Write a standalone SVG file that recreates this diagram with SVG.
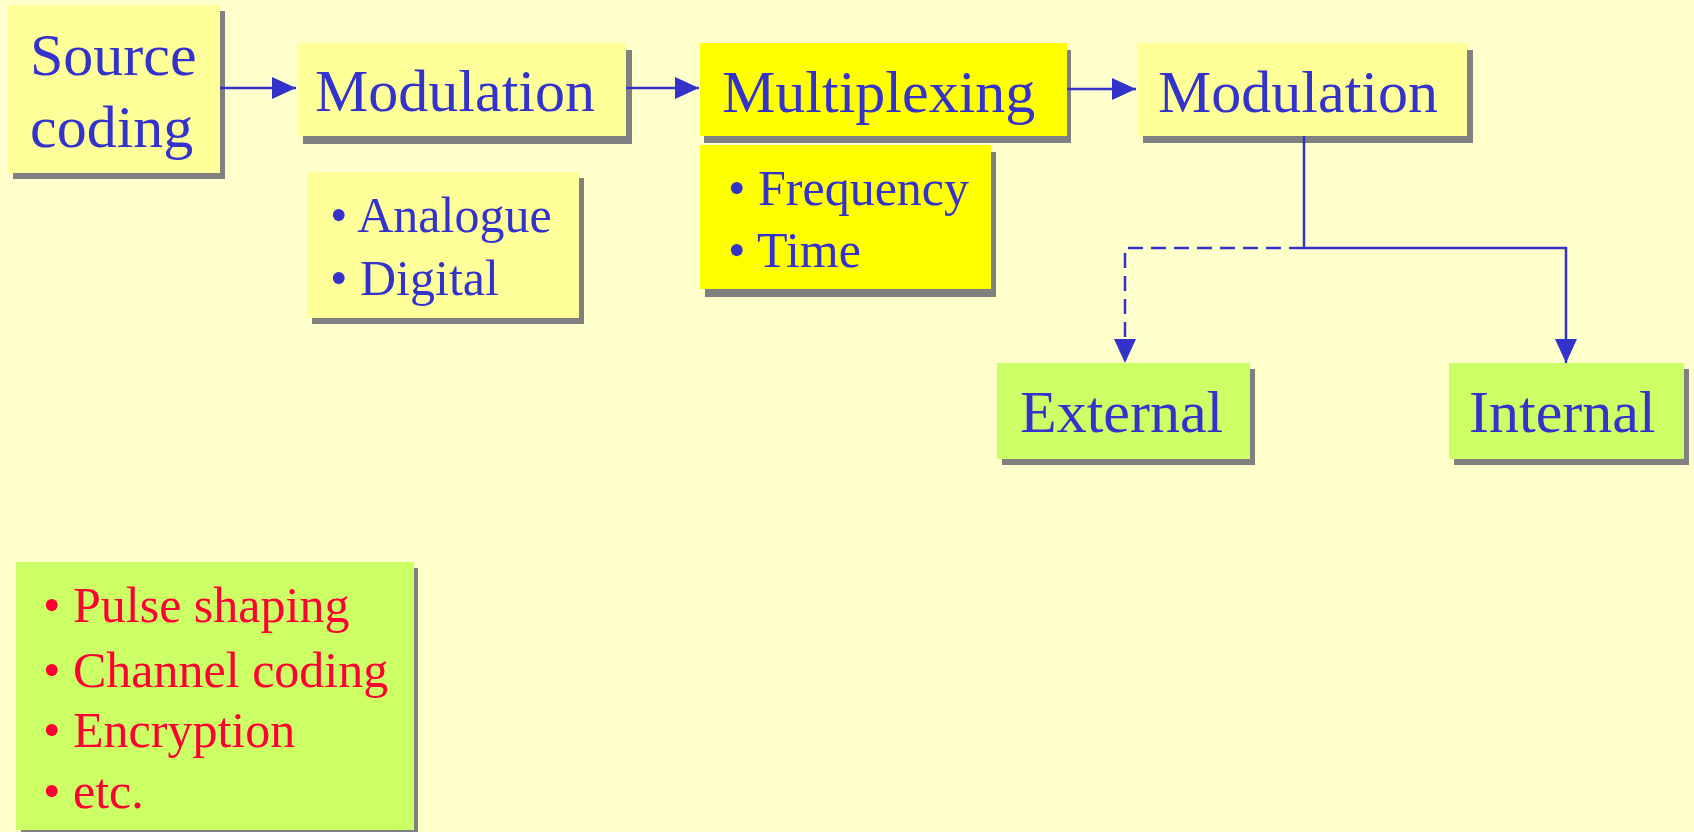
<svg xmlns="http://www.w3.org/2000/svg" width="1694" height="832" viewBox="0 0 1694 832">
<style>
.bg{fill:#FFFFCC}
.sh{fill:#808080}
.pale{fill:#FFFF99}
.yel{fill:#FFFF00}
.grn{fill:#CCFF66}
.t{font-family:"Liberation Serif","Times New Roman",serif;fill:#3333CC}
.big{font-size:60px}
.sm{font-size:50px}
.red{fill:#FF0033}
.ln{stroke:#3333CC;stroke-width:2.5;fill:none}
.dash{stroke-dasharray:15 8}
</style>
<defs>
<marker id="ah" markerUnits="userSpaceOnUse" markerWidth="24" markerHeight="24" viewBox="0 0 24 24" refX="24" refY="12" orient="auto">
<path d="M0,1 L24,12 L0,23 Z" fill="#3333CC"/>
</marker>
</defs>
<rect class="bg" x="0" y="0" width="1694" height="832"/>

<g id="source-coding">
<rect class="sh" x="13" y="11" width="212" height="168"/>
<rect class="pale" x="8" y="5" width="212" height="168"/>
<text class="t big" x="30" y="75">Source</text>
<text class="t big" x="30" y="147">coding</text>
</g>

<g id="modulation-1">
<rect class="sh" x="303" y="50" width="329" height="94"/>
<rect class="pale" x="297" y="43" width="329" height="93"/>
<text class="t big" x="315" y="111">Modulation</text>
</g>

<g id="analogue-digital">
<rect class="sh" x="312" y="178" width="272" height="146"/>
<rect class="pale" x="307" y="172" width="272" height="146"/>
<text class="t sm" x="330" y="232">• Analogue</text>
<text class="t sm" x="330" y="295">• Digital</text>
</g>

<g id="multiplexing">
<rect class="sh" x="704" y="50" width="367" height="93"/>
<rect class="yel" x="700" y="43" width="367" height="93"/>
<text class="t big" x="722" y="112">Multiplexing</text>
</g>

<g id="frequency-time">
<rect class="sh" x="705" y="152" width="291" height="145"/>
<rect class="yel" x="700" y="145" width="291" height="144"/>
<text class="t sm" x="728" y="205">• Frequency</text>
<text class="t sm" x="728" y="267">• Time</text>
</g>

<g id="modulation-2">
<rect class="sh" x="1143" y="50" width="330" height="93"/>
<rect class="pale" x="1137" y="43" width="330" height="93"/>
<text class="t big" x="1158" y="112">Modulation</text>
</g>

<g id="external">
<rect class="sh" x="1002" y="369" width="253" height="96"/>
<rect class="grn" x="997" y="363" width="253" height="96"/>
<text class="t big" x="1020" y="432">External</text>
</g>

<g id="internal">
<rect class="sh" x="1454" y="369" width="235" height="96"/>
<rect class="grn" x="1449" y="363" width="235" height="96"/>
<text class="t big" x="1469" y="432">Internal</text>
</g>

<g id="other-functions">
<rect class="sh" x="21" y="568" width="397" height="268"/>
<rect class="grn" x="16" y="562" width="398" height="268"/>
<text class="t sm red" x="43" y="622">• Pulse shaping</text>
<text class="t sm red" x="43" y="687">• Channel coding</text>
<text class="t sm red" x="43" y="747">• Encryption</text>
<text class="t sm red" x="43" y="808">• etc.</text>
</g>

<g id="connectors">
<line class="ln" x1="220" y1="88" x2="296" y2="88" marker-end="url(#ah)"/>
<line class="ln" x1="626" y1="88" x2="699" y2="88" marker-end="url(#ah)"/>
<line class="ln" x1="1067" y1="89" x2="1136" y2="89" marker-end="url(#ah)"/>
<polyline class="ln" points="1304,136 1304,248"/>
<polyline class="ln" points="1304,248 1566,248 1566,363" marker-end="url(#ah)"/>
<polyline class="ln dash" points="1304,248 1125,248 1125,363" marker-end="url(#ah)"/>
</g>
</svg>
